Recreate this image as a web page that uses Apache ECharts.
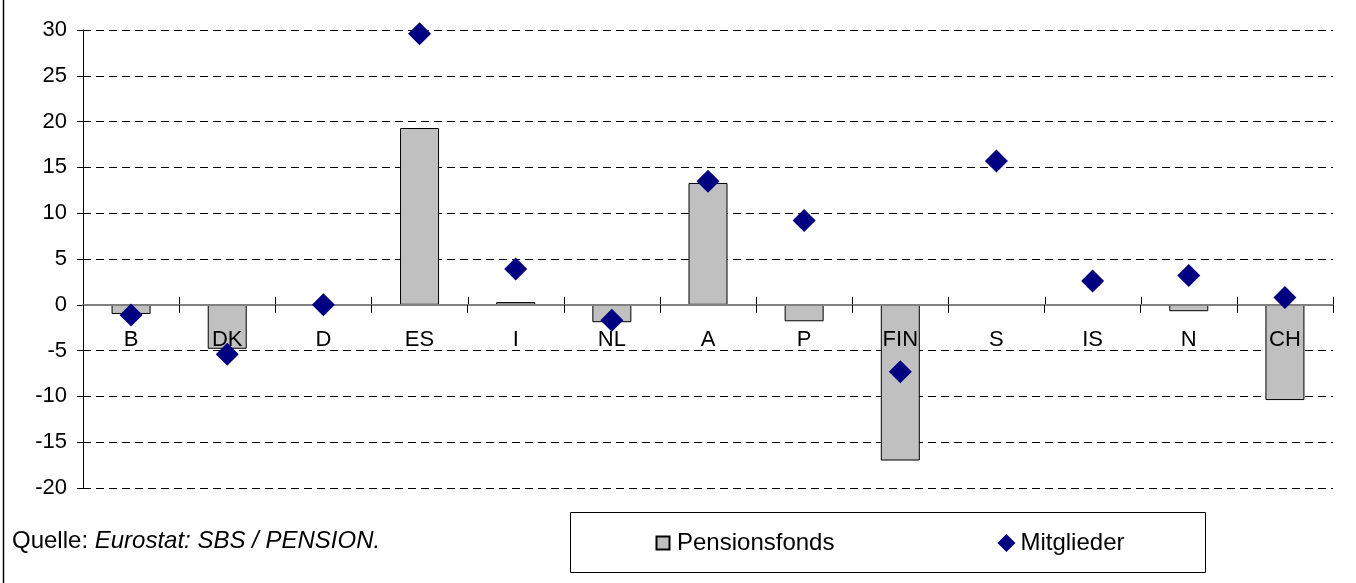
<!DOCTYPE html>
<html>
<head>
<meta charset="utf-8">
<script src="https://cdn.jsdelivr.net/npm/echarts@6/dist/echarts.min.js"></script>
<style>
  html, body { margin: 0; padding: 0; background: #fff; }
  #chart { width: 1356px; height: 583px; }
</style>
</head>
<body>
<div id="chart"></div>
<script>
// Countries on the category axis
const countries = ['B', 'DK', 'D', 'ES', 'I', 'NL', 'A', 'P', 'FIN', 'S', 'IS', 'N', 'CH'];
// Change in number of pension funds (%)
const pensionsfonds = [-1.0, -4.8, null, 19.3, 0.3, -1.9, 13.3, -1.8, -17.0, null, null, -0.7, -10.4];
// Change in number of members (%)
const mitglieder = [-1.1, -5.4, 0.0, 29.6, 3.9, -1.7, 13.5, 9.2, -7.3, 15.7, 2.6, 3.2, 0.8];
// Value axis range and step
const yMin = -20, yMax = 30, yStep = 5;

const FONT = 'Liberation Sans, Arial, sans-serif';
const TICK = 8;
const LABEL_GAP = 24;
const chart = echarts.init(document.getElementById('chart'), null, { renderer: 'canvas' });

// Category boundaries: one before each category plus the closing edge
const boundaryIdx = countries.map((_, i) => i).concat([countries.length]);

chart.setOption({
  animation: false,
  backgroundColor: '#ffffff',
  grid: { left: 83, right: 23, top: 30, bottom: 95, containLabel: false },
  xAxis: {
    type: 'category',
    data: countries,
    z: 5,
    axisLine: { onZero: true, lineStyle: { color: '#808080', width: 2 } },
    axisTick: { show: true, length: TICK, lineStyle: { color: '#000', width: 1 } },
    axisLabel: { show: false },
    splitLine: { show: false }
  },
  yAxis: {
    type: 'value',
    min: yMin,
    max: yMax,
    interval: yStep,
    axisLine: { show: true, lineStyle: { color: '#000', width: 1 } },
    axisTick: { show: true, length: 6, lineStyle: { color: '#000', width: 1 } },
    axisLabel: { color: '#000', fontFamily: FONT, fontSize: 22, margin: 16 },
    splitLine: { show: true, lineStyle: { color: '#000', width: 1, type: [8, 5] } }
  },
  legend: {
    left: 648,
    top: 526,
    itemGap: 163,
    itemWidth: 18,
    itemHeight: 18,
    textStyle: { color: '#000', fontFamily: FONT, fontSize: 24 },
    data: [
      { name: 'Pensionsfonds', icon: 'path://M0,0M18,18M2.5,2.5L15.5,2.5L15.5,15.5L2.5,15.5Z' },
      { name: 'Mitglieder', icon: 'diamond' }
    ]
  },
  graphic: [
    {
      type: 'line',
      shape: { x1: 3.5, y1: 0, x2: 3.5, y2: 583 },
      style: { stroke: '#000', lineWidth: 1.5 },
      silent: true
    },
    {
      type: 'rect',
      shape: { x: 570.5, y: 512.5, width: 635, height: 60 },
      style: { fill: 'none', stroke: '#000', lineWidth: 1 },
      silent: true
    },
    {
      type: 'text',
      left: 12,
      top: 529,
      style: {
        text: '{n|Quelle: }{i|Eurostat: SBS / PENSION.}',
        rich: {
          n: { fontFamily: FONT, fontSize: 24, fill: '#000' },
          i: { fontFamily: FONT, fontSize: 24, fontStyle: 'italic', fill: '#000' }
        }
      },
      silent: true
    }
  ],
  series: [
    {
      name: 'Pensionsfonds',
      type: 'bar',
      data: pensionsfonds,
      barWidth: 39,
      z: 2,
      itemStyle: { color: '#c0c0c0', borderColor: '#000', borderWidth: 1 }
    },
    {
      // category names sitting just below the zero line
      name: 'categoryLabels',
      type: 'custom',
      data: countries.map((c, i) => [i, 0]),
      z: 5,
      silent: true,
      renderItem: function (params, api) {
        const p = api.coord([api.value(0), 0]);
        return {
          type: 'text',
          x: p[0],
          y: p[1] + LABEL_GAP,
          style: {
            text: countries[params.dataIndex],
            fill: '#000',
            font: '22px ' + FONT,
            align: 'center',
            verticalAlign: 'top'
          }
        };
      }
    },
    {
      // upper halves of the boundary ticks; the axis draws the lower halves
      name: 'ticks',
      type: 'custom',
      data: boundaryIdx,
      z: 5,
      silent: true,
      renderItem: function (params, api) {
        const i = api.value(0);
        const step = api.size([1, 0])[0];
        const base = api.coord([0, 0]);
        const x = Math.round(base[0] - step / 2 + i * step) + 0.5;
        return {
          type: 'line',
          shape: { x1: x, y1: base[1] - TICK, x2: x, y2: base[1] },
          style: { stroke: '#000', lineWidth: 1 }
        };
      }
    },
    {
      name: 'Mitglieder',
      type: 'scatter',
      data: mitglieder,
      symbol: 'diamond',
      symbolSize: 23,
      z: 6,
      itemStyle: { color: '#000080', opacity: 1 }
    }
  ]
});
</script>
</body>
</html>
